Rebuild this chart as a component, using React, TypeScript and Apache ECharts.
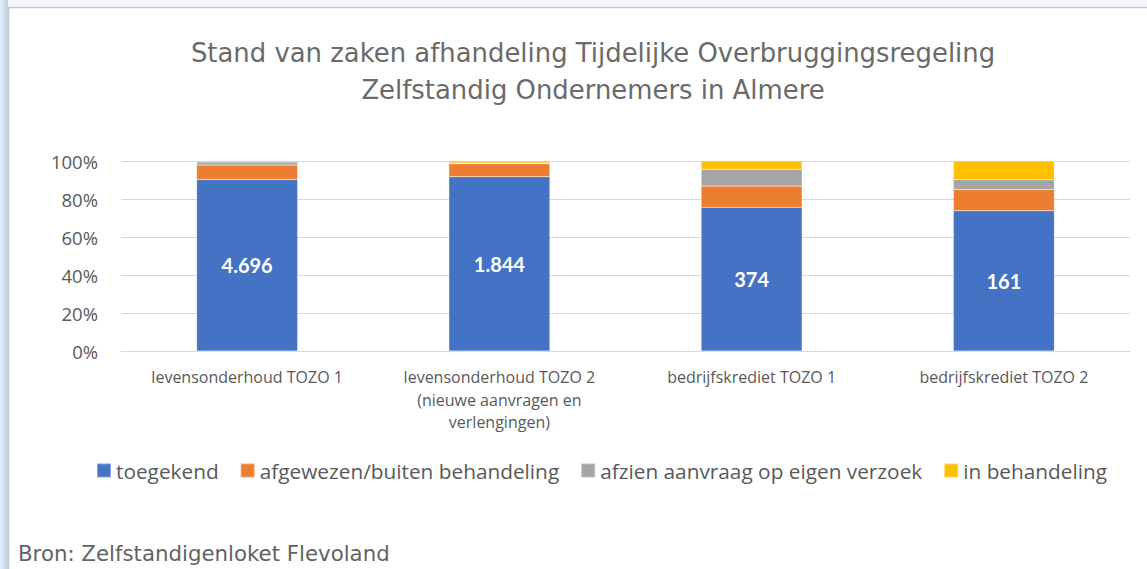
import React, { useEffect, useRef } from "react";
import * as echarts from "echarts";

const categories = [
  "levensonderhoud TOZO 1",
  "levensonderhoud TOZO 2\n(nieuwe aanvragen en\nverlengingen)",
  "bedrijfskrediet TOZO 1",
  "bedrijfskrediet TOZO 2",
];
const toegekend = [90.2, 91.7, 75.6, 73.8];
const afgewezen = [7.7, 6.8, 11.2, 11.2];
const afzien = [1.6, 0.4, 8.9, 5.1];
const inBehandeling = [0.5, 1.1, 4.3, 9.9];
const toegekendCounts = ["4.696", "1.844", "374", "161"];
const seriesNames = [
  "toegekend",
  "afgewezen/buiten behandeling",
  "afzien aanvraag op eigen verzoek",
  "in behandeling",
];
const colors = ["#4472C4", "#ED7D31", "#A5A5A5", "#FFC000"];
const yTicks = [0, 20, 40, 60, 80, 100];

export default function App() {
  const ref = useRef<HTMLDivElement>(null);
  useEffect(() => {
    if (!ref.current) return;
    const chart = echarts.init(ref.current, undefined, { renderer: "svg" });
    const font = "'Open Sans', 'Noto Sans', sans-serif";
    const din = "'DejaVu Sans', sans-serif";
    const lato = "Lato, 'Noto Sans', sans-serif";
    const datasets = [toegekend, afgewezen, afzien, inBehandeling];
    chart.setOption({
      animation: false,
      backgroundColor: "#ffffff",
      textStyle: { fontFamily: font },
      graphic: [
        {
          type: "rect",
          shape: { x: 0, y: 0, width: 8, height: 569 },
          style: {
            fill: new echarts.graphic.LinearGradient(0, 0, 1, 0, [
              { offset: 0, color: "#e6eff8" },
              { offset: 1, color: "#b7d2ec" },
            ]),
          },
          silent: true,
        },
        {
          type: "rect",
          shape: { x: 8, y: 0, width: 1139, height: 7 },
          style: { fill: "#f3f7fb" },
          silent: true,
        },
        {
          type: "line",
          shape: { x1: 8.5, y1: 7, x2: 8.5, y2: 569 },
          style: { stroke: "#c8c8c8", lineWidth: 1.5 },
          silent: true,
        },
        {
          type: "line",
          shape: { x1: 8, y1: 7.5, x2: 1147, y2: 7.5 },
          style: { stroke: "#c8c8c8", lineWidth: 1.5 },
          silent: true,
        },
        {
          type: "text",
          x: 18,
          y: 543,
          style: {
            text: "Bron: Zelfstandigenloket Flevoland",
            fontSize: 21.3,
            fill: "#636363",
            fontFamily: din,
          },
          silent: true,
        },
      ],
      title: {
        text: "Stand van zaken afhandeling Tijdelijke Overbruggingsregeling\nZelfstandig Ondernemers in Almere",
        left: 588,
        textAlign: "center",
        top: 29,
        textStyle: {
          fontSize: 25.9,
          fontWeight: "normal",
          color: "#6a6a6a",
          lineHeight: 37,
          fontFamily: din,
        },
      },
      legend: {
        bottom: 88,
        left: 96,
        padding: 0,
        itemWidth: 14,
        itemHeight: 14,
        itemGap: 21,
        icon: "rect",
        textStyle: { fontSize: 20.8, color: "#595959", fontFamily: font, padding: [0, 0, 0, 0] },
        data: seriesNames,
      },
      grid: { left: 121, right: 17, top: 161, bottom: 218 },
      xAxis: {
        type: "category",
        data: categories,
        axisTick: { show: false },
        axisLine: { lineStyle: { color: "#d9d9d9" } },
        axisLabel: {
          color: "#595959",
          fontSize: 16,
          lineHeight: 22.5,
          margin: 15,
          verticalAlign: "top",
          fontFamily: font,
        },
      },
      yAxis: {
        type: "value",
        min: 0,
        max: 100,
        interval: 20,
        axisLine: { show: false },
        axisTick: { show: false },
        splitLine: { lineStyle: { color: "#d9d9d9", width: 1 } },
        axisLabel: {
          color: "#595959",
          fontSize: 18.5,
          margin: 23,
          fontFamily: font,
          formatter: (v: number) => (yTicks.includes(v) ? v + "%" : ""),
        },
      },
      series: datasets.map((d, i) => ({
        name: seriesNames[i],
        type: "bar",
        stack: "total",
        barWidth: 101,
        data: d,
        itemStyle: { color: colors[i], borderColor: "rgba(255,255,255,0.35)", borderWidth: 0.5 },
        label:
          i === 0
            ? {
                show: true,
                position: "inside",
                color: "#ffffff",
                fontSize: 20,
                fontWeight: "bold",
                fontFamily: lato,
                formatter: (p: any) => toegekendCounts[p.dataIndex],
              }
            : { show: false },
      })),
    });
    return () => chart.dispose();
  }, []);
  return (
    <div
      ref={ref}
      style={{ position: "fixed", left: 0, top: 0, width: 1147, height: 569 }}
    />
  );
}
